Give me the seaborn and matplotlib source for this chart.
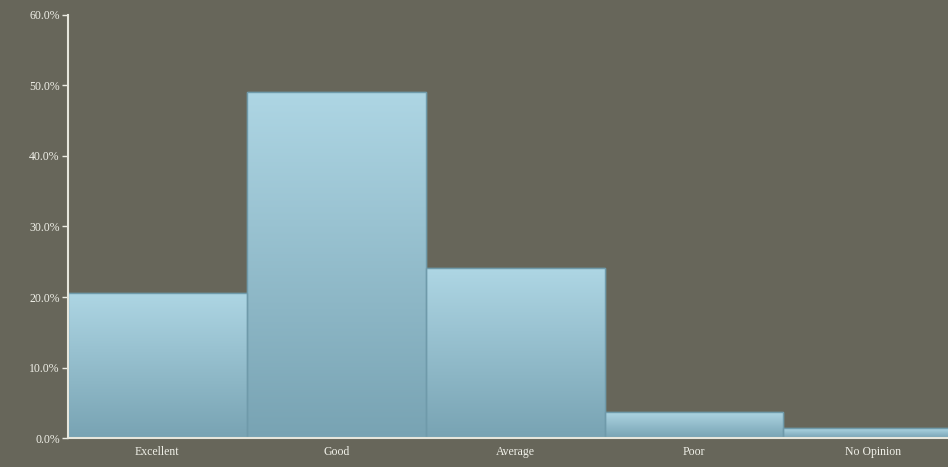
import matplotlib
matplotlib.use("Agg")
import matplotlib.pyplot as plt
import seaborn as sns
import numpy as np
import pandas as pd
from matplotlib.colors import LinearSegmentedColormap
from matplotlib.ticker import FuncFormatter, MultipleLocator

categories = ["Excellent", "Good", "Average", "Poor", "No Opinion"]
values = [20.6, 49.1, 24.1, 3.7, 1.4]

bg = "#67665a"
sns.set_theme(style="white")
plt.rcParams["font.family"] = ["Liberation Serif", "DejaVu Serif"]

fig = plt.figure(figsize=(9.48, 4.67), dpi=100, facecolor=bg)
ax = fig.add_axes([0.0717, 0.062, 0.9283, 0.906])
ax.set_facecolor(bg)

df = pd.DataFrame({"cat": categories, "val": values})
sns.barplot(data=df, x="cat", y="val", ax=ax, width=1.0, color="#9cc6d4",
            edgecolor="#6f9aaa", linewidth=1.0, saturation=1)

cmap = LinearSegmentedColormap.from_list("g", ["#78a3b3", "#aed6e4"])
grad = np.linspace(0, 1, 256).reshape(-1, 1)
for p in ax.patches:
    x0, y0 = p.get_x(), p.get_y()
    w, h = p.get_width(), p.get_height()
    im = ax.imshow(grad, cmap=cmap, aspect="auto", origin="lower",
                   extent=[x0, x0 + w, y0, y0 + h], zorder=p.get_zorder() + 0.1)
    im.set_clip_path(p)
    ax.add_patch(plt.Rectangle((x0, y0), w, h, fill=False, edgecolor="#6f9aaa",
                               linewidth=1.0, zorder=p.get_zorder() + 0.2))

ax.set_xlim(-0.5, 4.42)
ax.set_ylim(0, 60)
ax.yaxis.set_major_locator(MultipleLocator(10))
ax.yaxis.set_major_formatter(FuncFormatter(lambda v, _: f"{v:.1f}%"))
ax.set_xlabel("")
ax.set_ylabel("")

for s in ["top", "right"]:
    ax.spines[s].set_visible(False)
for s in ["left", "bottom"]:
    ax.spines[s].set_color("#e6e6dc")
    ax.spines[s].set_linewidth(1.5)
    ax.spines[s].set_zorder(5)

ax.tick_params(axis="y", colors="#ecece4", labelsize=8.5, length=4, width=1, direction="out", left=True, pad=2)
ax.tick_params(axis="x", colors="#ecece4", labelsize=8.5, length=0, pad=6)
for t in ax.get_xticklabels() + ax.get_yticklabels():
    t.set_color("#f0f0e8")

fig.savefig("out.png", dpi=100, facecolor=bg)
